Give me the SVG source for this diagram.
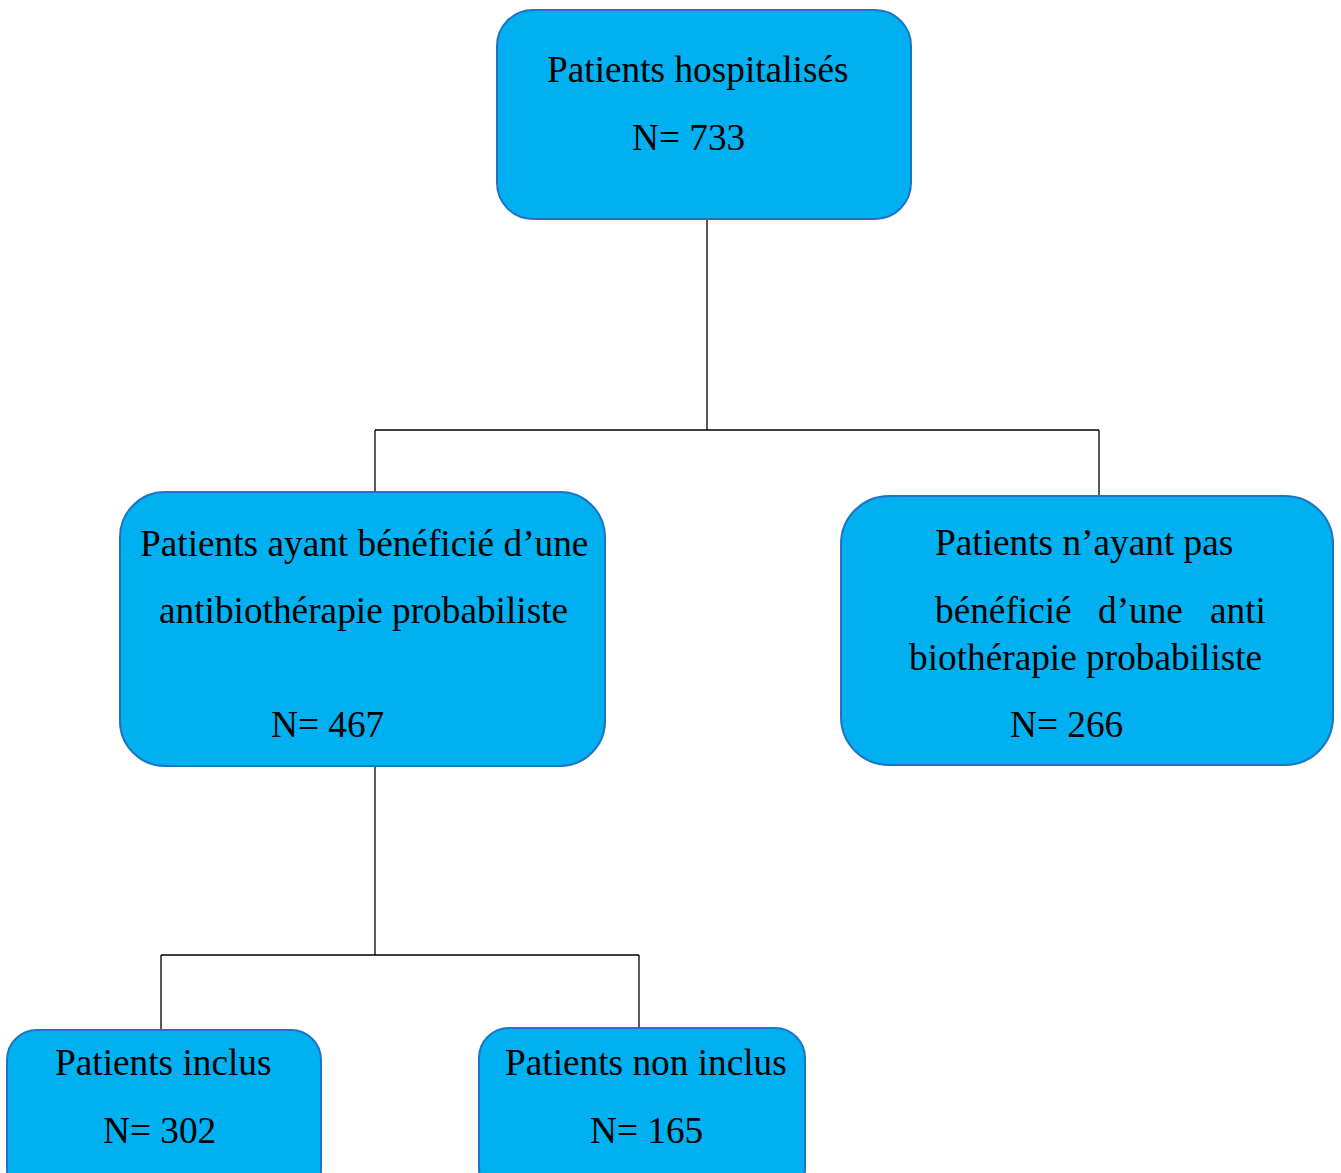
<svg xmlns="http://www.w3.org/2000/svg" width="1341" height="1173" viewBox="0 0 1341 1173">
<style>
.box{fill:#00B0F0;stroke:#1F74C4;stroke-width:2}
.t{font-family:"Liberation Serif","Times New Roman",serif;font-size:37.3px;fill:#000}
.c{fill:none;stroke:#000;stroke-width:1.3}
</style>
<rect width="1341" height="1173" fill="#fff"/>
<g id="connectors">
<path class="c" d="M707 219V430M375 430H1099M375 430V492M1099 430V496"/>
<path class="c" d="M375 766V955M161 955H639M161 955V1030M639 955V1028"/>
</g>
<g id="n-hosp">
<rect class="box" x="497" y="10" width="414" height="209" rx="36"/>
<text class="t" x="547" y="82">Patients hospitalisés</text>
<text class="t" x="632" y="150">N= 733</text>
</g>
<g id="n-avec">
<rect class="box" x="120" y="492" width="485" height="274" rx="45"/>
<text class="t" x="140" y="556">Patients ayant bénéficié d’une</text>
<text class="t" x="159" y="623">antibiothérapie probabiliste</text>
<text class="t" x="271" y="737">N= 467</text>
</g>
<g id="n-sans">
<rect class="box" x="841" y="496" width="492" height="269" rx="48"/>
<text class="t" x="935" y="555">Patients n’ayant pas</text>
<text class="t" y="623"><tspan x="935">bénéficié</tspan><tspan x="1098">d’une</tspan><tspan x="1210">anti</tspan></text>
<text class="t" x="909" y="670">biothérapie probabiliste</text>
<text class="t" x="1010" y="737">N= 266</text>
</g>
<g id="n-inclus">
<rect class="box" x="7" y="1030" width="314" height="170" rx="30"/>
<text class="t" x="55" y="1075">Patients inclus</text>
<text class="t" x="103" y="1143">N= 302</text>
</g>
<g id="n-noninclus">
<rect class="box" x="479" y="1028" width="326" height="170" rx="30"/>
<text class="t" x="505" y="1075">Patients non inclus</text>
<text class="t" x="590" y="1143">N= 165</text>
</g>
</svg>
